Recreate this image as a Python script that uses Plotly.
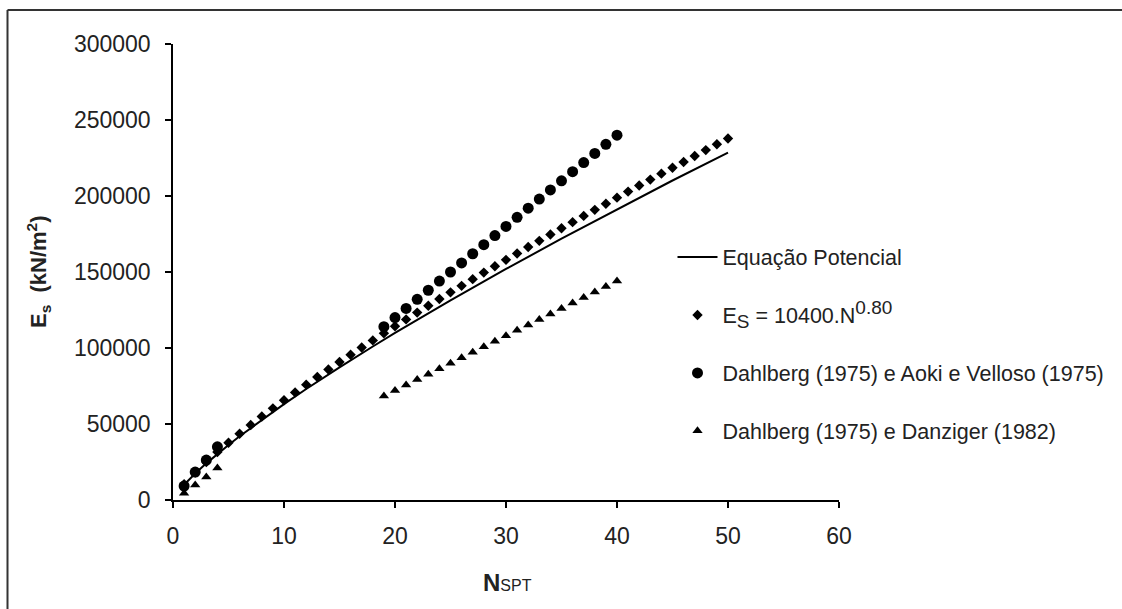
import plotly.graph_objects as go

# ---- data ----
n_potencial = [1, 2, 3, 4, 5, 6, 8, 10, 12, 15, 18, 20, 25, 30, 35, 40, 45, 50]
es_potencial = [10000, 17400, 24100, 30300, 36200, 41900, 52800, 63100, 73000, 87300,
                101000, 109900, 131300, 152000, 171900, 191300, 210200, 228600]

n_eq = [1, 2, 3, 4, 5, 6, 7, 8, 9, 10, 11, 12, 13, 14, 15, 16, 17, 18, 19, 20, 21, 22, 23, 24, 25,
        26, 27, 28, 29, 30, 31, 32, 33, 34, 35, 36, 37, 38, 39, 40, 41, 42, 43, 44, 45, 46, 47, 48, 49, 50]
es_eq = [10400, 18100, 25000, 31500, 37700, 43600, 49300, 54900, 60300, 65600,
         70800, 75900, 80900, 85900, 90800, 95600, 100300, 105000, 109700, 114300,
         118800, 123300, 127800, 132200, 136600, 140900, 145300, 149600, 153800, 158000,
         162200, 166400, 170500, 174700, 178800, 182800, 186900, 190900, 194900, 198900,
         202900, 206900, 210800, 214700, 218600, 222400, 226300, 230200, 234000, 237800]

n_aoki = [1, 2, 3, 4, 19, 20, 21, 22, 23, 24, 25, 26, 27, 28, 29, 30, 31, 32, 33, 34, 35, 36, 37, 38, 39, 40]
es_aoki = [9200, 18400, 26300, 35000, 114000, 120000, 126000, 132000, 138000, 144000,
           150000, 156000, 162000, 168000, 174000, 180000, 186000, 192000, 198000, 204000,
           210000, 216000, 222000, 228000, 234000, 240000]

n_danz = [1, 2, 3, 4, 19, 20, 21, 22, 23, 24, 25, 26, 27, 28, 29, 30, 31, 32, 33, 34, 35, 36, 37, 38, 39, 40]
es_danz = [4500, 9900, 15100, 21000, 68400, 72000, 75600, 79200, 82800, 86400,
           90000, 93600, 97200, 100800, 104400, 108000, 111600, 115200, 118800, 122400,
           126000, 129600, 133200, 136800, 140400, 144000]

names = ["Equação Potencial",
         "E<sub><span style='font-size:19px'>S</span></sub> = 10400.N<sup><span style='font-size:19px'>0.80</span></sup>",
         "Dahlberg (1975) e Aoki e Velloso (1975)",
         "Dahlberg (1975) e Danziger (1982)"]

x_ticks = [0, 10, 20, 30, 40, 50, 60]
y_ticks = [0, 50000, 100000, 150000, 200000, 250000, 300000]

FONT = "Liberation Sans, Arial, sans-serif"

fig = go.Figure()
fig.add_trace(go.Scatter(x=n_aoki, y=es_aoki, mode="markers", name=names[2],
                         marker=dict(symbol="circle", size=11, color="black"),
                         legendgroup="c", legendrank=3))
fig.add_trace(go.Scatter(x=n_danz, y=es_danz, mode="markers", name=names[3],
                         marker=dict(symbol="triangle-up", size=9, color="black"),
                         legendgroup="d", legendrank=4))
fig.add_trace(go.Scatter(x=n_eq, y=es_eq, mode="markers", name=names[1],
                         marker=dict(symbol="diamond", size=8, color="black"),
                         legendgroup="b", legendrank=2))
fig.add_trace(go.Scatter(x=n_potencial, y=es_potencial, mode="lines", name=names[0],
                         line=dict(color="black", width=2),
                         legendgroup="a", legendrank=1))

axis_common = dict(showgrid=False, zeroline=False, showline=True, linecolor="black",
                   linewidth=1.5, ticks="outside", ticklen=6, tickwidth=1.5,
                   tickcolor="black", tickfont=dict(family=FONT, size=23, color="#222"))

fig.update_xaxes(range=[0, 60], tickvals=x_ticks, ticklabelstandoff=9, **axis_common)
fig.update_yaxes(range=[0, 300000], tickvals=y_ticks, tickformat="d",
                 ticklabelstandoff=10, **axis_common)

# outer chart-area border (only top and left edges are visible in the reference)
bx0, by0, bx1, by1 = (7.5 - 173) / 666, (500 - 640) / 456, (1150 - 173) / 666, (500 - 10) / 456
border = dict(color="#333", width=2)

# plot area: x 173..839, y 44..500
fig.update_layout(
    width=1122, height=609,
    margin=dict(l=173, r=283, t=44, b=109, autoexpand=False),
    paper_bgcolor="white", plot_bgcolor="white",
    font=dict(family=FONT, color="#222"),
    showlegend=True,
    legend=dict(x=0.75, y=0.342, xanchor="left", yanchor="middle",
                xref="paper", yref="paper",
                font=dict(family=FONT, size=21.5, color="#222"),
                tracegroupgap=27, bgcolor="rgba(0,0,0,0)", itemwidth=40),
    annotations=[
        dict(text="<b>E<sub>s</sub>  (kN/m<sup>2</sup>)</b>", textangle=-90,
             xref="paper", yref="paper", x=(38 - 173) / 666, y=(500 - 272) / 456,
             xanchor="center", yanchor="middle", showarrow=False,
             font=dict(family=FONT, size=22, color="#222")),
        dict(text="<b>N</b><span style='font-size:16px'>SPT</span>",
             xref="paper", yref="paper", x=(507 - 173) / 666, y=(500 - 582) / 456,
             xanchor="center", yanchor="middle", showarrow=False,
             font=dict(family=FONT, size=24, color="#222")),
    ],
    shapes=[
        dict(type="line", xref="paper", yref="paper", x0=bx0, x1=bx1, y0=by1, y1=by1,
             line=border, layer="below"),
        dict(type="line", xref="paper", yref="paper", x0=bx0, x1=bx0, y0=by0, y1=by1,
             line=border, layer="below"),
    ],
)

fig.write_html(
    "out.html",
    config={"displayModeBar": False},
    post_script=("document.body.style.margin='0';"
                 "document.body.style.overflow='hidden';"
                 "document.documentElement.style.overflow='hidden';"),
)
